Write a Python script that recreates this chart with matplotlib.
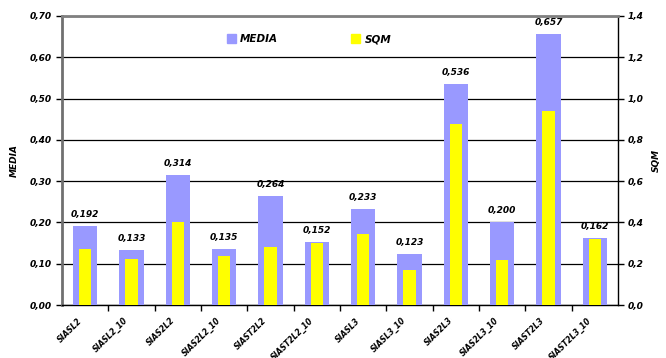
import matplotlib.pyplot as plt
import matplotlib.transforms as mtransforms
from matplotlib.patches import Patch
from matplotlib.ticker import FixedLocator, MultipleLocator, FuncFormatter

categorie = ['SIASL2', 'SIASL2_10', 'SIAS2L2', 'SIAS2L2_10', 'SIAST2L2', 'SIAST2L2_10',
             'SIASL3', 'SIASL3_10', 'SIAS2L3', 'SIAS2L3_10', 'SIAST2L3', 'SIAST2L3_10']
media = [0.192, 0.133, 0.314, 0.135, 0.264, 0.152, 0.233, 0.123, 0.536, 0.200, 0.657, 0.162]
sqm = [0.271, 0.223, 0.402, 0.237, 0.281, 0.302, 0.344, 0.170, 0.877, 0.218, 0.940, 0.320]

BLU = '#9999FF'
GIALLO = '#FFFF00'
font = dict(fontsize=6.5, fontweight='bold', fontstyle='italic')

fig = plt.figure(figsize=(6.66, 3.58), dpi=100)
ax = fig.add_axes([62 / 666, 1 - 305 / 358, 556 / 666, 289 / 358])
ax2 = ax.twinx()

x = list(range(len(categorie)))
ax.bar(x, media, width=0.52, color=BLU, zorder=3)
ax2.bar(x, sqm, width=0.26, color=GIALLO, zorder=3)

for xi, v in zip(x, media):
    ax.text(xi, v + 0.017, f'{v:.3f}'.replace('.', ','), ha='center', va='bottom', **font)

ax.set_xlim(-0.5, len(categorie) - 0.5)
ax.set_ylim(0, 0.7)
ax2.set_ylim(0, 1.4)
ax.yaxis.set_major_locator(MultipleLocator(0.1))
ax2.yaxis.set_major_locator(MultipleLocator(0.2))
ax.yaxis.set_major_formatter(FuncFormatter(lambda t, p: f'{t:.2f}'.replace('.', ',')))
ax2.yaxis.set_major_formatter(FuncFormatter(lambda t, p: f'{t:.1f}'.replace('.', ',')))
ax.yaxis.grid(True, color='black', linewidth=0.9, zorder=0)
ax.set_axisbelow(True)
for lab in ax.get_yticklabels() + ax2.get_yticklabels():
    lab.set_fontsize(6.5)
    lab.set_fontweight('bold')
    lab.set_fontstyle('italic')

# tacche tra le categorie, etichette al centro
ax.xaxis.set_major_locator(FixedLocator([i + 0.5 for i in x[:-1]]))
ax.xaxis.set_major_formatter(FuncFormatter(lambda t, p: ''))
ax.tick_params(axis='x', which='major', length=4, width=1)
ax.tick_params(axis='x', which='minor', length=0, pad=8)
ax.set_xticks(x, minor=True)
ax.set_xticklabels(categorie, minor=True, rotation=45, ha='right',
                   rotation_mode='anchor', fontsize=5.6, fontweight='bold', fontstyle='italic')
shift = mtransforms.ScaledTranslation(-8 / 100, 0, fig.dpi_scale_trans)
for lab in ax.get_xticklabels(minor=True):
    lab.set_transform(lab.get_transform() + shift)

ax.tick_params(axis='y', length=4, width=1, pad=3)
ax2.tick_params(axis='y', length=4, width=1, pad=3)

for s in ['top', 'right']:
    ax.spines[s].set_visible(False)
ax2.spines['left'].set_visible(False)
ax2.spines['bottom'].set_visible(False)
ax2.spines['top'].set_color('#808080')
ax2.spines['top'].set_linewidth(2)
ax.spines['left'].set_color('#707070')
ax.spines['left'].set_linewidth(2)
ax.spines['bottom'].set_linewidth(1)
ax2.spines['right'].set_linewidth(1)

ax.set_ylabel('MEDIA', labelpad=8, **font)
ax2.set_ylabel('SQM', labelpad=6, **font)

handles = [Patch(color=BLU, label='MEDIA'), Patch(color=GIALLO, label='SQM')]
ax2.legend(handles=handles, loc='center', bbox_to_anchor=(309 / 666, 1 - 39 / 358),
           bbox_transform=fig.transFigure, ncol=2, frameon=False,
           handlelength=0.9, handleheight=0.9, handletextpad=0.4, columnspacing=7,
           prop=dict(size=7.5, weight='bold', style='italic'))

fig.savefig('out.png', dpi=100)
